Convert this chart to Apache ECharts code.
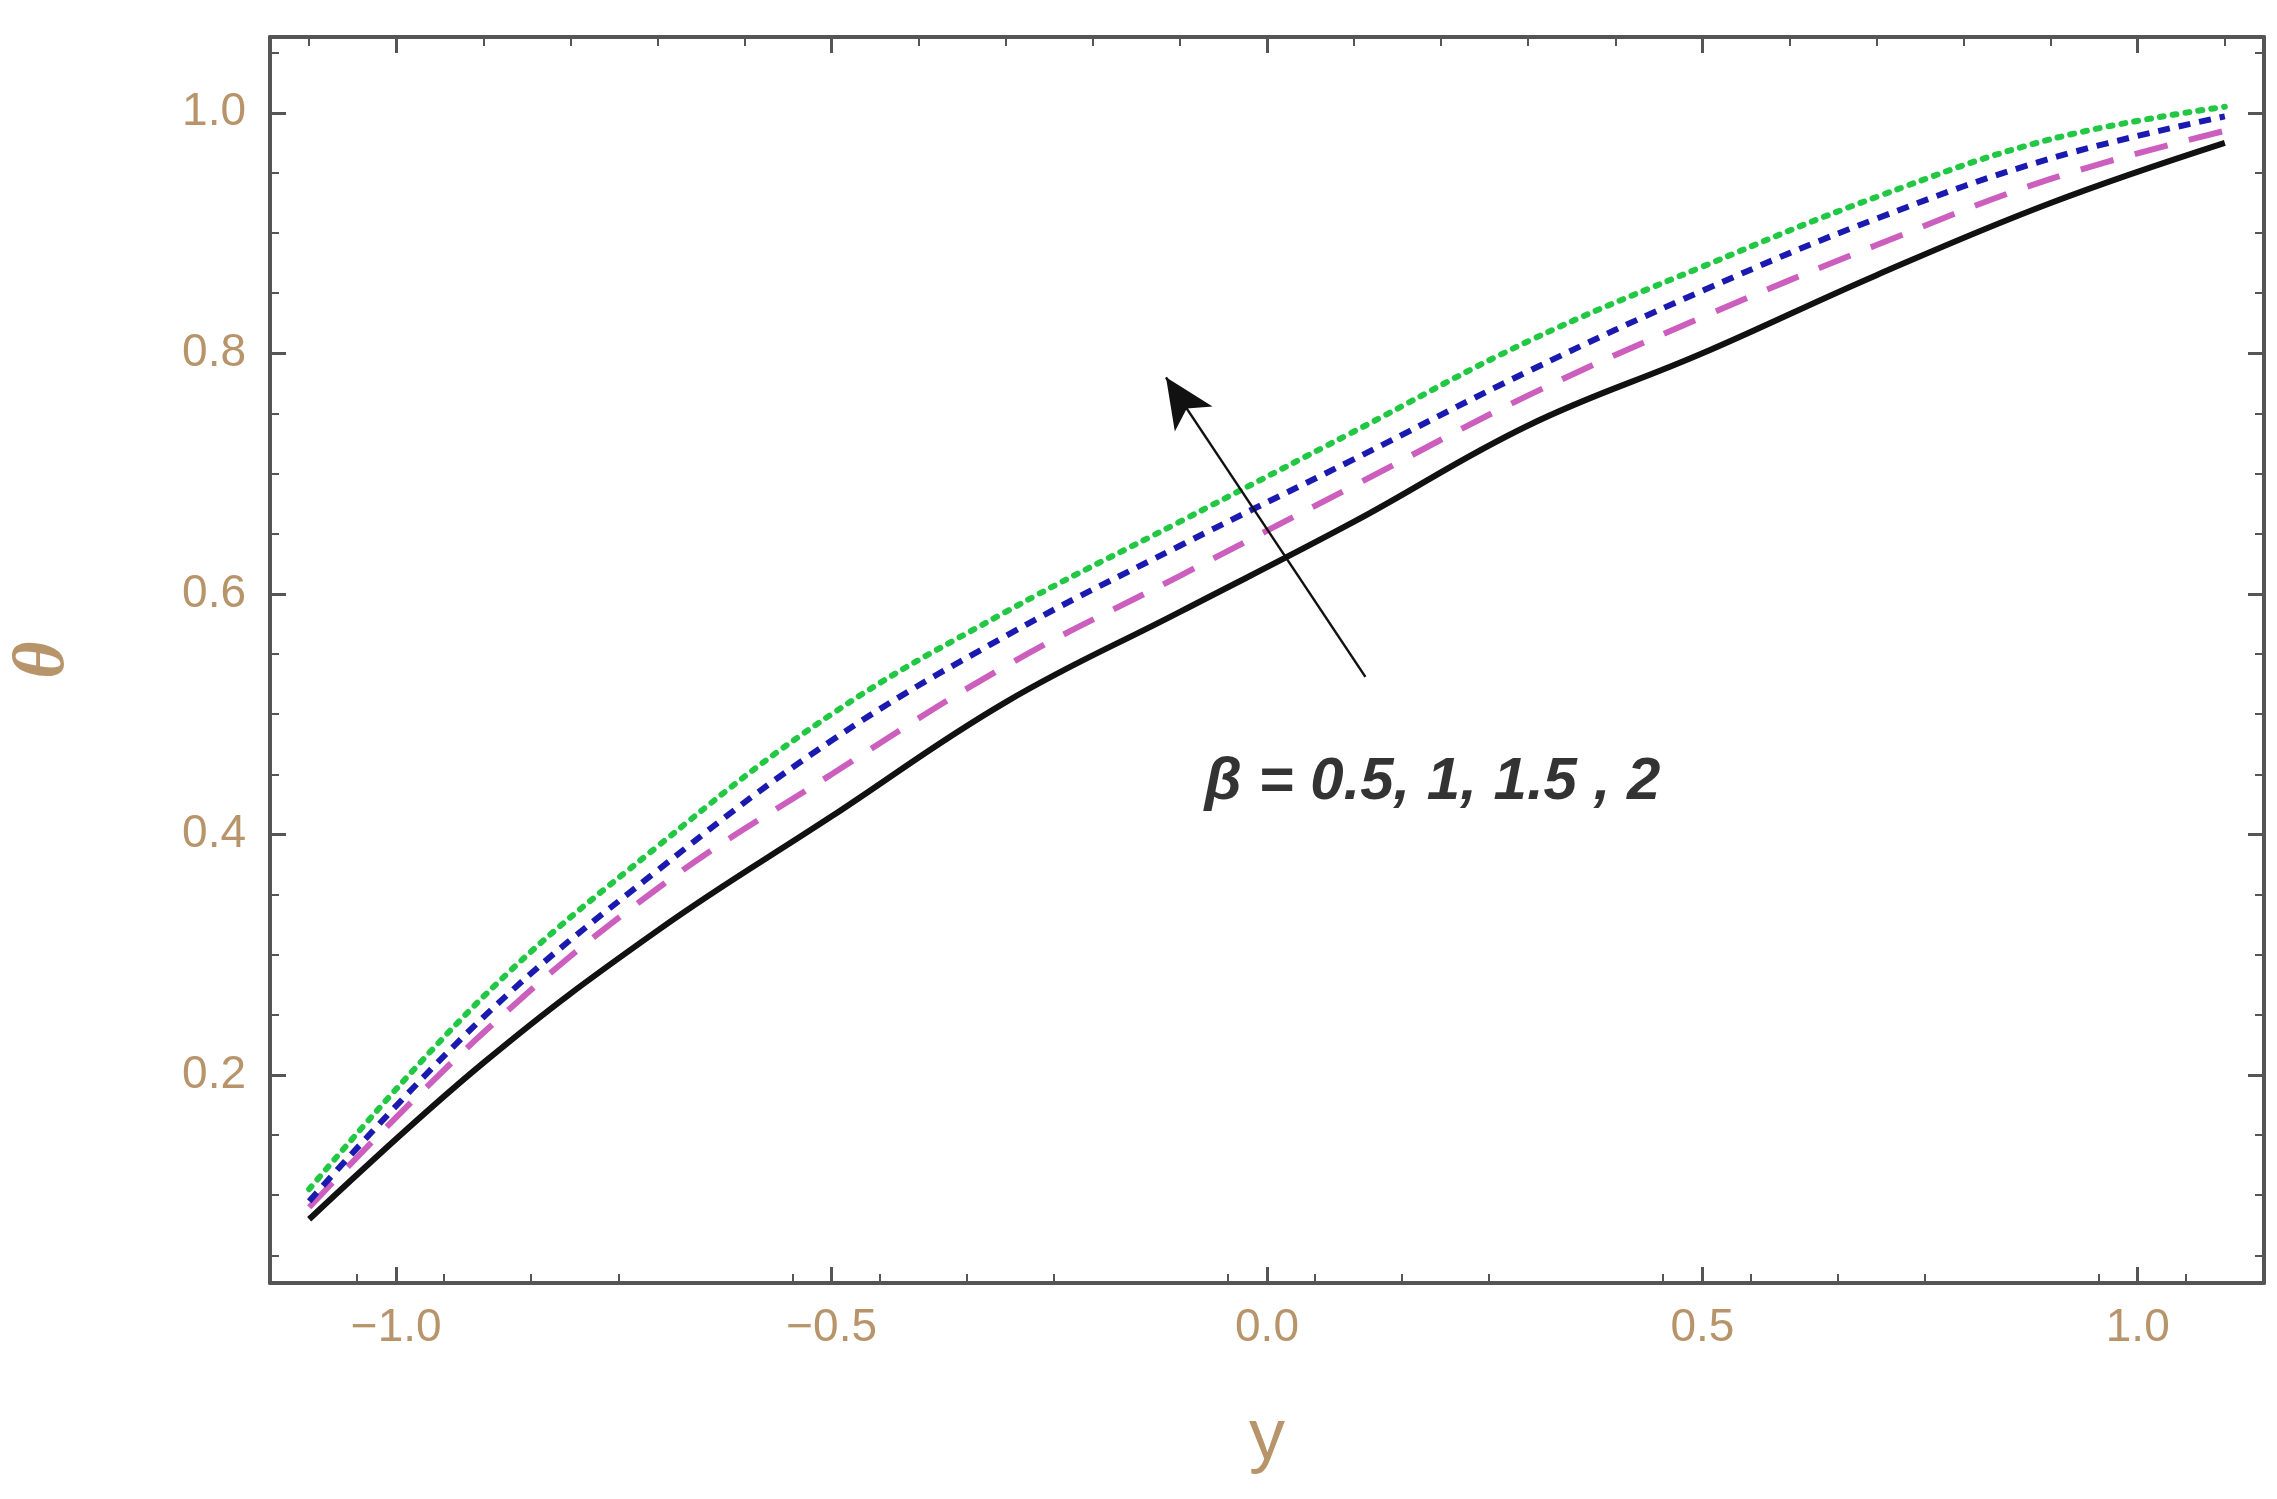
<!DOCTYPE html>
<html>
<head>
<meta charset="utf-8">
<script src="https://cdn.jsdelivr.net/npm/echarts@6/dist/echarts.min.js"></script>
<style>html,body{margin:0;padding:0;background:#fff}#chart{width:2277px;height:1499px}</style>
</head>
<body>
<div id="chart"></div>
<script>
// y values along the channel
const yPos = [-1.1, -0.9, -0.7, -0.5, -0.3, -0.1, 0.1, 0.3, 0.5, 0.7, 0.9, 1.1]
// theta for beta = 0.5, 1, 1.5, 2
const theta05 = [0.080, 0.210, 0.320, 0.415, 0.510, 0.585, 0.660, 0.740, 0.800, 0.865, 0.925, 0.975]
const theta1  = [0.090, 0.235, 0.355, 0.450, 0.540, 0.615, 0.690, 0.765, 0.830, 0.890, 0.945, 0.985]
const theta15 = [0.095, 0.248, 0.370, 0.478, 0.565, 0.640, 0.712, 0.785, 0.852, 0.912, 0.962, 0.997]
const theta2  = [0.105, 0.265, 0.390, 0.500, 0.585, 0.660, 0.735, 0.810, 0.872, 0.930, 0.978, 1.005]
const xTicks = [-1.0, -0.5, 0, 0.5, 1.0]
const yTicks = [0.2, 0.4, 0.6, 0.8, 1.0]

const tickColor = '#b8946a'
const frame = '#555'

function pts(arr) { return yPos.map((x, i) => [x, arr[i]]) }

function line(name, data, color, type, cap) {
  return {
    name, type: 'line', data: pts(data), smooth: 0.4, symbol: 'none',
    lineStyle: { color, width: 6, type, cap: cap || 'butt' }
  }
}

const chart = echarts.init(document.getElementById('chart'))

const axisCommon = {
  axisLine: { show: true, onZero: false, lineStyle: { color: frame, width: 4 } },
  axisTick: { inside: true, length: 16, lineStyle: { color: frame, width: 3 } },
  minorTick: { show: true, splitNumber: 5, length: 9, lineStyle: { color: frame, width: 2 } },
  splitLine: { show: false },
  axisLabel: { color: tickColor, fontSize: 46, fontFamily: 'Liberation Sans' }
}

chart.setOption({
  animation: false,
  grid: { left: 253, right: 13, top: 37, bottom: 216 },
  xAxis: [
    Object.assign({}, axisCommon, {
      type: 'value', min: -1.145, max: 1.145, interval: 0.5,
      axisLabel: Object.assign({}, axisCommon.axisLabel, { margin: 22,
        customValues: xTicks, formatter: v => v.toFixed(1).replace('-', '−') }),
      axisTick: Object.assign({}, axisCommon.axisTick, { customValues: xTicks }),
      name: 'y', nameLocation: 'middle', nameGap: 120,
      nameTextStyle: { color: tickColor, fontSize: 72, fontFamily: 'Liberation Sans' }
    }),
    Object.assign({}, axisCommon, {
      type: 'value', min: -1.145, max: 1.145, position: 'top',
      axisLabel: { show: false },
      axisTick: Object.assign({}, axisCommon.axisTick, { customValues: xTicks })
    })
  ],
  yAxis: [
    Object.assign({}, axisCommon, {
      type: 'value', min: 0.027, max: 1.063,
      axisLabel: Object.assign({}, axisCommon.axisLabel, { margin: 24,
        customValues: yTicks, formatter: v => v.toFixed(1) }),
      axisTick: Object.assign({}, axisCommon.axisTick, { customValues: yTicks }),
      minorTick: Object.assign({}, axisCommon.minorTick, { splitNumber: 4 }),
      name: 'θ', nameLocation: 'middle', nameGap: 190, nameRotate: 90,
      nameTextStyle: { color: tickColor, fontSize: 72, fontStyle: 'italic', fontWeight: 'bold', fontFamily: 'Liberation Serif' }
    }),
    Object.assign({}, axisCommon, {
      type: 'value', min: 0.027, max: 1.063, position: 'right',
      axisLabel: { show: false },
      axisTick: Object.assign({}, axisCommon.axisTick, { customValues: yTicks }),
      minorTick: Object.assign({}, axisCommon.minorTick, { splitNumber: 4 })
    })
  ],
  series: [
    Object.assign(line('β=0.5', theta05, '#111', 'solid'), {
      markLine: {
        silent: true, symbol: ['none', 'arrow'], symbolSize: [34, 50],
        lineStyle: { color: '#111', width: 2.5, type: 'solid' }, label: { show: false },
        data: [[{ coord: [0.113, 0.531] }, { coord: [-0.116, 0.78] }]]
      }
    }),
    line('β=1', theta1, '#cc5fbe', [34, 22]),
    line('β=1.5', theta15, '#1a1ab0', [12, 9]),
    line('β=2', theta2, '#22c844', [4, 9], 'round'),
    {
      type: 'scatter', data: [[0.19, 0.443]], symbolSize: 0,
      label: { show: true, formatter: 'β = 0.5, 1, 1.5 , 2', position: 'inside',
        color: '#000', fontSize: 60, fontStyle: 'italic', fontWeight: 'bold', fontFamily: 'Liberation Sans' }
    }
  ]
})
</script>
</body>
</html>
